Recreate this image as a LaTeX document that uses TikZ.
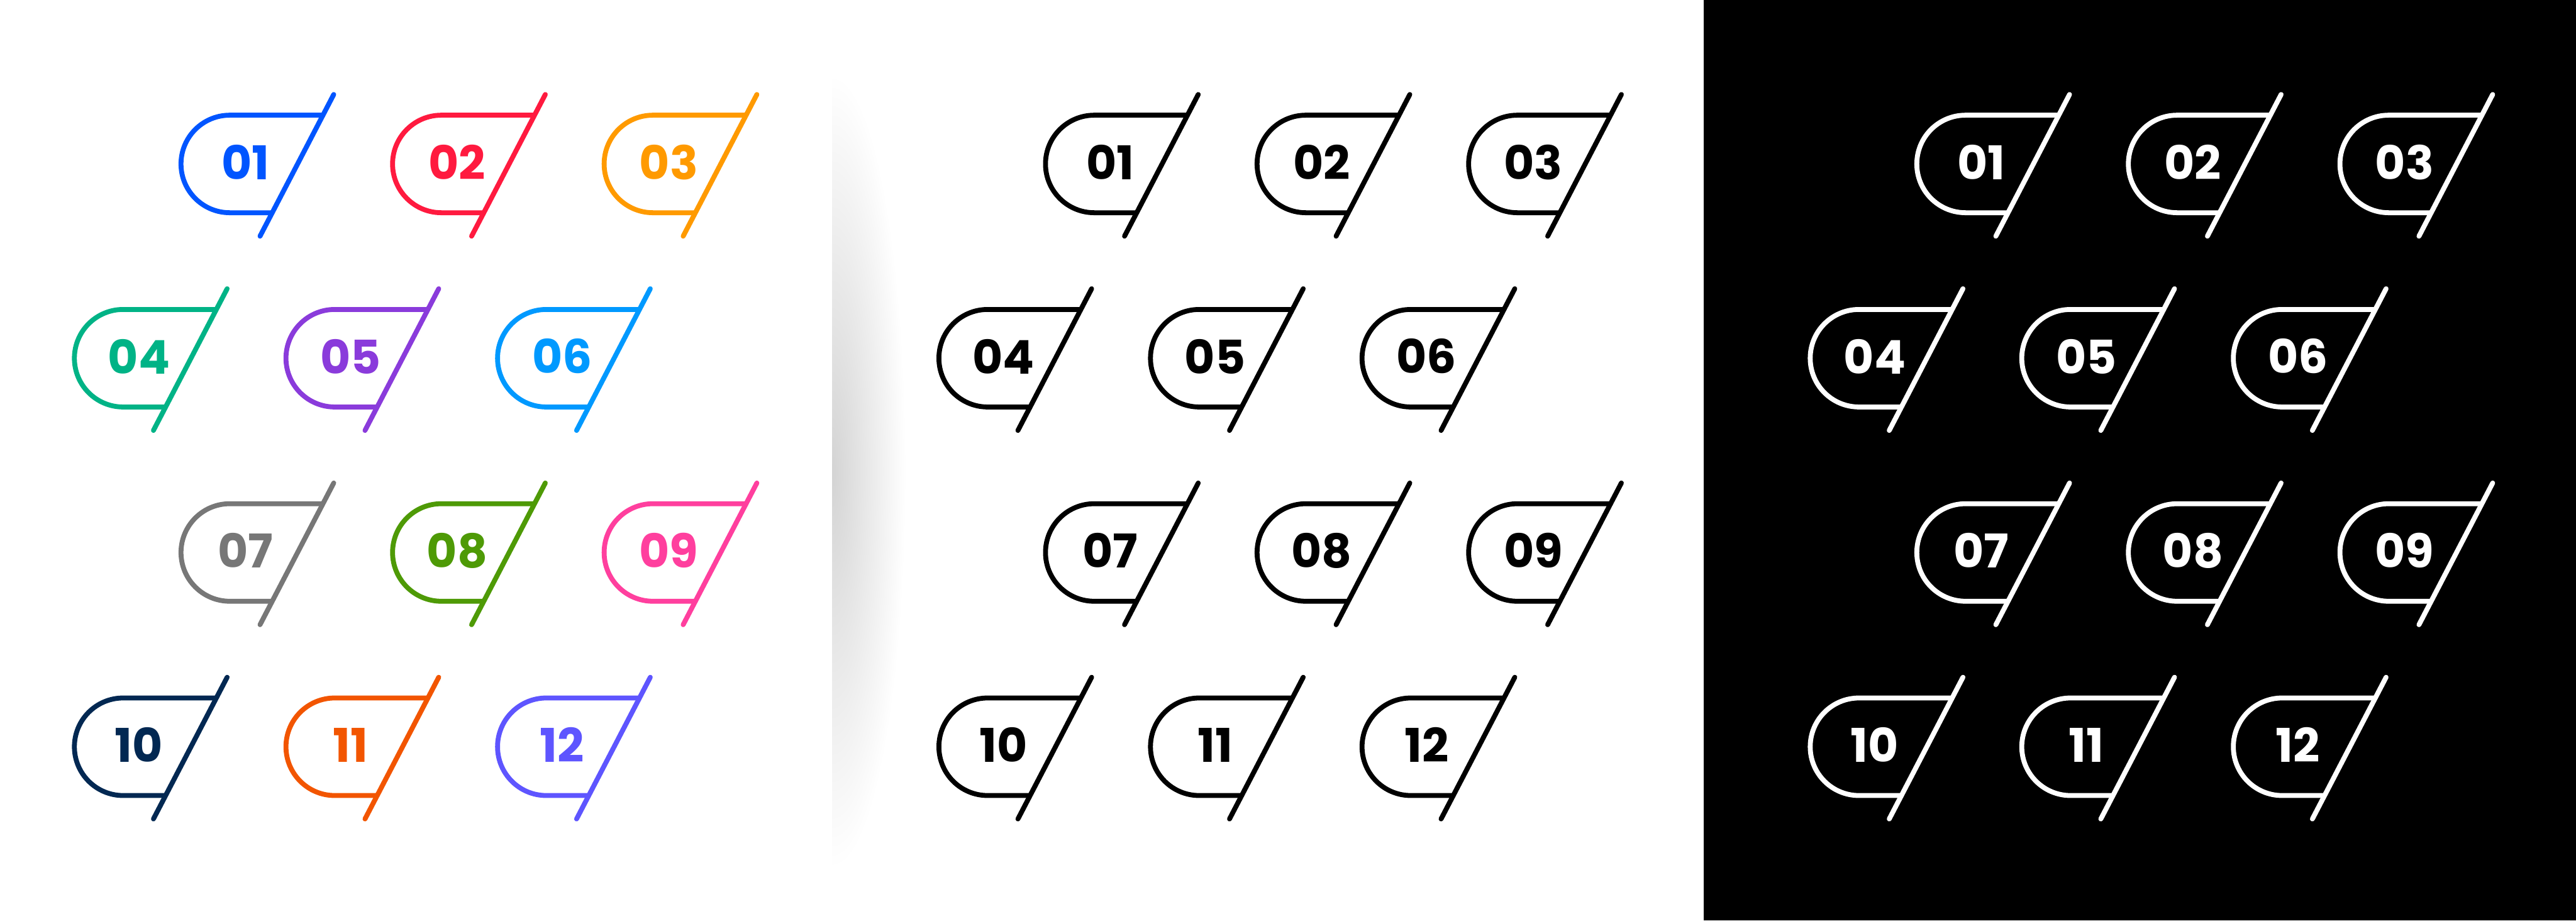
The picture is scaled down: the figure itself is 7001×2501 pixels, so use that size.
\documentclass[tikz,border=0pt]{standalone}
\usepackage{fontspec}
\setmainfont{Poppins}

\definecolor{c1}{HTML}{0055FF}
\definecolor{c2}{HTML}{FF1A3F}
\definecolor{c3}{HTML}{FF9A00}
\definecolor{c4}{HTML}{00B386}
\definecolor{c5}{HTML}{8A3BDB}
\definecolor{c6}{HTML}{0099FF}
\definecolor{c7}{HTML}{777777}
\definecolor{c8}{HTML}{4E9A06}
\definecolor{c9}{HTML}{FF3F9E}
\definecolor{c10}{HTML}{022852}
\definecolor{c11}{HTML}{F25500}
\definecolor{c12}{HTML}{5E55FF}

\tikzset{
  rim/.style={line width=1.33mm, line cap=butt},
  cut/.style={line width=1.33mm, line cap=round},
  num/.style={font=\fontsize{36}{40}\selectfont\bfseries, inner sep=0pt},
}

% one numbered tag: name, centre of the round end, colour, number
\newcommand{\numtag}[4]{
  \begin{scope}[shift={#2}]
    \draw[rim,#3] (253.3,132.5)--(0,132.5) arc[start angle=90, end angle=270, radius=132.5]--(115.4,-132.5);
    \draw[cut,#3] (282.6,188.8)--(82.3,-196.2);
    \node[num,text=#3] (#1) at (43,5) {#4};
  \end{scope}
}

\begin{document}
\begin{tikzpicture}[x=0.1mm, y=0.1mm]
\useasboundingbox (0,0) rectangle (7001,2501);
\fill[white] (0,0) rectangle (7001,2501);
\fill[black] (4631,0) rectangle (7001,2501);
% shadow at the edge of the middle sheet
\begin{scope}
\clip (2262,0) rectangle (2600,2501);
\shade[inner color=black!17, outer color=white] (2262,1220) ellipse[x radius=200, y radius=1080];
\end{scope}

\foreach \n/\col [count=\i from 0] in {01/c1,02/c2,03/c3,04/c4,05/c5,06/c6,07/c7,08/c8,09/c9,10/c10,11/c11,12/c12} {
  \pgfmathtruncatemacro\r{int(\i/3)}
  \pgfmathtruncatemacro\c{mod(\i,3)}
  \pgfmathsetmacro\x{624.4+575*\c-289.7*mod(\r,2)}
  \pgfmathsetmacro\y{2501-445.5-527.8*\r}
  \numtag{c\n}{(\x,\y)}{\col}{\n}
  \numtag{m\n}{(\x+2349.5,\y)}{black}{\n}
  \numtag{k\n}{(\x+4717.5,\y)}{white}{\n}
}
\end{tikzpicture}
\end{document}
